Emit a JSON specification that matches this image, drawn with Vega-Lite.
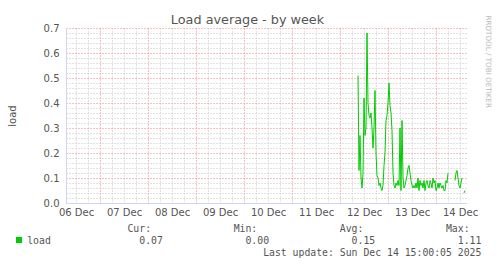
{
  "$schema": "https://vega.github.io/schema/vega-lite/v6.json",
  "width": 400,
  "height": 175,
  "autosize": {"type": "none"},
  "padding": {"left": 66, "top": 28, "right": 31, "bottom": 61},
  "background": "#ffffff",
  "title": {
    "text": "Load average - by week",
    "font": "DejaVu Sans",
    "fontSize": 12.8,
    "fontWeight": "normal",
    "color": "#555555",
    "anchor": "middle",
    "frame": "group",
    "dx": -18.5,
    "offset": -22,
    "baseline": "alphabetic"
  },
  "config": {
    "view": {"stroke": null},
    "axis": {"labelFont": "DejaVu Sans", "titleFont": "DejaVu Sans", "titleFontWeight": "normal"}
  },
  "data": {
    "values": [
      {"t": "2025-12-12T09:00", "v": 0.51},
      {"t": "2025-12-12T09:30", "v": 0.13},
      {"t": "2025-12-12T10:00", "v": 0.27},
      {"t": "2025-12-12T10:30", "v": 0.10},
      {"t": "2025-12-12T11:00", "v": 0.06},
      {"t": "2025-12-12T11:30", "v": 0.12},
      {"t": "2025-12-12T12:00", "v": 0.42},
      {"t": "2025-12-12T12:30", "v": 0.27},
      {"t": "2025-12-12T13:00", "v": 0.30},
      {"t": "2025-12-12T13:30", "v": 0.68},
      {"t": "2025-12-12T14:00", "v": 0.40},
      {"t": "2025-12-12T14:30", "v": 0.35},
      {"t": "2025-12-12T15:00", "v": 0.34},
      {"t": "2025-12-12T15:30", "v": 0.36},
      {"t": "2025-12-12T16:00", "v": 0.30},
      {"t": "2025-12-12T16:30", "v": 0.22},
      {"t": "2025-12-12T17:00", "v": 0.30},
      {"t": "2025-12-12T17:30", "v": 0.45},
      {"t": "2025-12-12T18:00", "v": 0.20},
      {"t": "2025-12-12T18:30", "v": 0.11},
      {"t": "2025-12-12T19:00", "v": 0.10},
      {"t": "2025-12-12T19:30", "v": 0.07},
      {"t": "2025-12-12T20:00", "v": 0.08},
      {"t": "2025-12-12T20:30", "v": 0.06},
      {"t": "2025-12-12T21:00", "v": 0.05},
      {"t": "2025-12-12T21:30", "v": 0.07},
      {"t": "2025-12-12T22:00", "v": 0.15},
      {"t": "2025-12-12T22:30", "v": 0.20},
      {"t": "2025-12-12T23:00", "v": 0.33},
      {"t": "2025-12-12T23:30", "v": 0.35},
      {"t": "2025-12-13T00:00", "v": 0.40},
      {"t": "2025-12-13T00:30", "v": 0.48},
      {"t": "2025-12-13T01:00", "v": 0.39},
      {"t": "2025-12-13T01:30", "v": 0.36},
      {"t": "2025-12-13T02:00", "v": 0.29},
      {"t": "2025-12-13T02:30", "v": 0.12},
      {"t": "2025-12-13T03:00", "v": 0.07},
      {"t": "2025-12-13T03:30", "v": 0.06},
      {"t": "2025-12-13T04:00", "v": 0.08},
      {"t": "2025-12-13T04:30", "v": 0.07},
      {"t": "2025-12-13T05:00", "v": 0.09},
      {"t": "2025-12-13T05:30", "v": 0.07},
      {"t": "2025-12-13T06:00", "v": 0.30},
      {"t": "2025-12-13T06:30", "v": 0.05},
      {"t": "2025-12-13T07:00", "v": 0.33},
      {"t": "2025-12-13T07:30", "v": 0.10},
      {"t": "2025-12-13T08:00", "v": 0.06},
      {"t": "2025-12-13T08:30", "v": 0.07},
      {"t": "2025-12-13T09:00", "v": 0.09},
      {"t": "2025-12-13T09:30", "v": 0.11},
      {"t": "2025-12-13T10:00", "v": 0.14},
      {"t": "2025-12-13T10:30", "v": 0.15},
      {"t": "2025-12-13T11:00", "v": 0.12},
      {"t": "2025-12-13T11:30", "v": 0.09},
      {"t": "2025-12-13T12:00", "v": 0.07},
      {"t": "2025-12-13T12:30", "v": 0.06},
      {"t": "2025-12-13T13:00", "v": 0.07},
      {"t": "2025-12-13T13:30", "v": 0.06},
      {"t": "2025-12-13T14:00", "v": 0.08},
      {"t": "2025-12-13T14:30", "v": 0.06},
      {"t": "2025-12-13T15:00", "v": 0.10},
      {"t": "2025-12-13T15:30", "v": 0.05},
      {"t": "2025-12-13T16:00", "v": 0.09},
      {"t": "2025-12-13T16:30", "v": 0.07},
      {"t": "2025-12-13T17:00", "v": 0.08},
      {"t": "2025-12-13T17:30", "v": 0.06},
      {"t": "2025-12-13T18:00", "v": 0.09},
      {"t": "2025-12-13T18:30", "v": 0.05},
      {"t": "2025-12-13T19:00", "v": 0.08},
      {"t": "2025-12-13T19:30", "v": 0.09},
      {"t": "2025-12-13T20:00", "v": 0.07},
      {"t": "2025-12-13T20:30", "v": 0.06},
      {"t": "2025-12-13T21:00", "v": 0.09},
      {"t": "2025-12-13T21:30", "v": 0.08},
      {"t": "2025-12-13T22:00", "v": 0.06},
      {"t": "2025-12-13T22:30", "v": 0.10},
      {"t": "2025-12-13T23:00", "v": 0.08},
      {"t": "2025-12-13T23:30", "v": 0.09},
      {"t": "2025-12-14T00:00", "v": 0.05},
      {"t": "2025-12-14T00:30", "v": 0.06},
      {"t": "2025-12-14T01:00", "v": 0.08},
      {"t": "2025-12-14T01:30", "v": 0.06},
      {"t": "2025-12-14T02:00", "v": 0.08},
      {"t": "2025-12-14T02:30", "v": 0.07},
      {"t": "2025-12-14T03:00", "v": 0.06},
      {"t": "2025-12-14T03:30", "v": 0.07},
      {"t": "2025-12-14T04:00", "v": 0.05},
      {"t": "2025-12-14T04:30", "v": 0.05},
      {"t": "2025-12-14T05:00", "v": 0.09},
      {"t": "2025-12-14T05:30", "v": 0.08},
      {"t": "2025-12-14T06:00", "v": 0.12},
      {"t": "2025-12-14T06:30", "v": null},
      {"t": "2025-12-14T09:30", "v": 0.09},
      {"t": "2025-12-14T10:00", "v": 0.12},
      {"t": "2025-12-14T10:30", "v": 0.13},
      {"t": "2025-12-14T11:00", "v": 0.10},
      {"t": "2025-12-14T11:30", "v": 0.07},
      {"t": "2025-12-14T12:00", "v": 0.06},
      {"t": "2025-12-14T12:30", "v": 0.08},
      {"t": "2025-12-14T13:00", "v": 0.10},
      {"t": "2025-12-14T13:30", "v": null},
      {"t": "2025-12-14T14:00", "v": 0.04},
      {"t": "2025-12-14T14:30", "v": 0.05}
    ]
  },
  "layer": [
    {
      "mark": {"type": "point", "opacity": 0},
      "encoding": {
        "x": {
          "field": "t", "type": "temporal",
          "scale": {"domain": [{"year": 2025, "month": 12, "date": 6, "hours": 7}, {"year": 2025, "month": 12, "date": 14, "hours": 15}]},
          "axis": {"orient": "bottom", "values": [
            {"year": 2025, "month": 12, "date": 6, "hours": 12}, {"year": 2025, "month": 12, "date": 6, "hours": 18},
            {"year": 2025, "month": 12, "date": 7, "hours": 6}, {"year": 2025, "month": 12, "date": 7, "hours": 12}, {"year": 2025, "month": 12, "date": 7, "hours": 18},
            {"year": 2025, "month": 12, "date": 8, "hours": 6}, {"year": 2025, "month": 12, "date": 8, "hours": 12}, {"year": 2025, "month": 12, "date": 8, "hours": 18},
            {"year": 2025, "month": 12, "date": 9, "hours": 6}, {"year": 2025, "month": 12, "date": 9, "hours": 12}, {"year": 2025, "month": 12, "date": 9, "hours": 18},
            {"year": 2025, "month": 12, "date": 10, "hours": 6}, {"year": 2025, "month": 12, "date": 10, "hours": 12}, {"year": 2025, "month": 12, "date": 10, "hours": 18},
            {"year": 2025, "month": 12, "date": 11, "hours": 6}, {"year": 2025, "month": 12, "date": 11, "hours": 12}, {"year": 2025, "month": 12, "date": 11, "hours": 18},
            {"year": 2025, "month": 12, "date": 12, "hours": 6}, {"year": 2025, "month": 12, "date": 12, "hours": 12}, {"year": 2025, "month": 12, "date": 12, "hours": 18},
            {"year": 2025, "month": 12, "date": 13, "hours": 6}, {"year": 2025, "month": 12, "date": 13, "hours": 12}, {"year": 2025, "month": 12, "date": 13, "hours": 18},
            {"year": 2025, "month": 12, "date": 14, "hours": 6}, {"year": 2025, "month": 12, "date": 14, "hours": 12}
          ], "grid": true, "gridColor": "#c4c4c4", "gridDash": [1, 2], "labels": false, "ticks": false, "domain": false, "title": null}
        },
        "y": {
          "field": "v", "type": "quantitative",
          "scale": {"domain": [0, 0.7], "nice": false},
          "axis": {"orient": "left", "values": [0.02, 0.04, 0.06, 0.08, 0.12, 0.14, 0.16, 0.18, 0.22, 0.24, 0.26, 0.28, 0.32, 0.34, 0.36, 0.38, 0.42, 0.44, 0.46, 0.48, 0.52, 0.54, 0.56, 0.58, 0.62, 0.64, 0.66, 0.68], "grid": true, "gridColor": "#c4c4c4", "gridDash": [1, 2], "labels": false, "ticks": false, "domain": false, "title": null}
        }
      }
    },
    {
      "mark": {"type": "point", "opacity": 0},
      "encoding": {
        "x": {
          "field": "t", "type": "temporal",
          "scale": {"domain": [{"year": 2025, "month": 12, "date": 6, "hours": 7}, {"year": 2025, "month": 12, "date": 14, "hours": 15}]},
          "axis": {"orient": "bottom", "values": [
            {"year": 2025, "month": 12, "date": 7}, {"year": 2025, "month": 12, "date": 8}, {"year": 2025, "month": 12, "date": 9},
            {"year": 2025, "month": 12, "date": 10}, {"year": 2025, "month": 12, "date": 11}, {"year": 2025, "month": 12, "date": 12},
            {"year": 2025, "month": 12, "date": 13}, {"year": 2025, "month": 12, "date": 14}
          ], "grid": true, "gridColor": "#f08080", "gridDash": [1, 2], "labels": false, "ticks": false, "domain": false, "title": null}
        },
        "y": {
          "field": "v", "type": "quantitative",
          "scale": {"domain": [0, 0.7], "nice": false},
          "axis": {"orient": "left", "values": [0, 0.1, 0.2, 0.3, 0.4, 0.5, 0.6, 0.7], "format": ".1f", "grid": true, "gridColor": "#f08080", "gridDash": [1, 2], "ticks": false, "labelPadding": 7, "labelFontSize": 10, "labelColor": "#555555", "domain": true, "domainColor": "#cfd6f8", "title": "load", "titleFontSize": 10, "titleColor": "#555555", "titleX": -54, "titleBaseline": "middle"}
        }
      }
    },
    {
      "mark": {"type": "line", "strokeWidth": 1},
      "encoding": {
        "x": {
          "field": "t", "type": "temporal",
          "scale": {"domain": [{"year": 2025, "month": 12, "date": 6, "hours": 7}, {"year": 2025, "month": 12, "date": 14, "hours": 15}]},
          "axis": {
            "orient": "bottom",
            "values": [
              {"year": 2025, "month": 12, "date": 6, "hours": 12},
              {"year": 2025, "month": 12, "date": 7, "hours": 12},
              {"year": 2025, "month": 12, "date": 8, "hours": 12},
              {"year": 2025, "month": 12, "date": 9, "hours": 12},
              {"year": 2025, "month": 12, "date": 10, "hours": 12},
              {"year": 2025, "month": 12, "date": 11, "hours": 12},
              {"year": 2025, "month": 12, "date": 12, "hours": 12},
              {"year": 2025, "month": 12, "date": 13, "hours": 12},
              {"year": 2025, "month": 12, "date": 14, "hours": 12}
            ],
            "format": "%d %b",
            "grid": false, "ticks": false, "labelPadding": 4, "labelFontSize": 10, "labelColor": "#555555",
            "domain": true, "domainColor": "#cfd6f8",
            "title": [
              "\u200b\u00a0\u00a0\u00a0\u00a0\u00a0\u00a0\u00a0\u00a0\u00a0\u00a0\u00a0\u00a0\u00a0\u00a0\u00a0\u00a0\u00a0Cur:\u00a0\u00a0\u00a0\u00a0\u00a0\u00a0\u00a0\u00a0\u00a0\u00a0\u00a0\u00a0\u00a0\u00a0Min:\u00a0\u00a0\u00a0\u00a0\u00a0\u00a0\u00a0\u00a0\u00a0\u00a0\u00a0\u00a0\u00a0\u00a0Avg:\u00a0\u00a0\u00a0\u00a0\u00a0\u00a0\u00a0\u00a0\u00a0\u00a0\u00a0\u00a0\u00a0\u00a0Max:",
              "load\u00a0\u00a0\u00a0\u00a0\u00a0\u00a0\u00a0\u00a0\u00a0\u00a0\u00a0\u00a0\u00a0\u00a0\u00a00.07\u00a0\u00a0\u00a0\u00a0\u00a0\u00a0\u00a0\u00a0\u00a0\u00a0\u00a0\u00a0\u00a0\u00a00.00\u00a0\u00a0\u00a0\u00a0\u00a0\u00a0\u00a0\u00a0\u00a0\u00a0\u00a0\u00a0\u00a0\u00a00.15\u00a0\u00a0\u00a0\u00a0\u00a0\u00a0\u00a0\u00a0\u00a0\u00a0\u00a0\u00a0\u00a0\u00a01.11",
              "\u200b\u00a0\u00a0\u00a0\u00a0\u00a0\u00a0\u00a0\u00a0\u00a0\u00a0\u00a0\u00a0\u00a0\u00a0\u00a0\u00a0\u00a0\u00a0\u00a0\u00a0\u00a0\u00a0\u00a0\u00a0\u00a0\u00a0\u00a0\u00a0\u00a0\u00a0\u00a0\u00a0\u00a0\u00a0\u00a0\u00a0\u00a0\u00a0\u00a0\u00a0Last update: Sun Dec 14 15:00:05 2025"
            ],
            "titleFont": "DejaVu Sans Mono", "titleFontSize": 9.8, "titleColor": "#555555",
            "titleAlign": "left", "titleBaseline": "alphabetic", "titleLineHeight": 12.2,
            "titleX": -39.3, "titleY": 28
          }
        },
        "y": {
          "field": "v", "type": "quantitative",
          "scale": {"domain": [0, 0.7], "nice": false},
          "axis": {"orient": "right", "labels": false, "ticks": false, "domain": false, "grid": false,
            "title": "RRDTOOL / TOBI OETIKER", "titleAngle": 90, "titleFontSize": 7.2, "titleColor": "#bbbbbb",
            "titleX": 21, "titleY": -13, "titleAlign": "left", "titleBaseline": "middle"}
        },
        "color": {
          "datum": "load",
          "scale": {"range": ["#00cc00"]},
          "legend": {"orient": "none", "legendX": -52, "legendY": 207, "title": null, "symbolType": "square", "symbolSize": 36, "symbolFillColor": "#00cc00", "symbolStrokeColor": "#00cc00", "symbolStrokeWidth": 0, "labelExpr": "''"}
        }
      }
    }
  ],
  "resolve": {"axis": {"x": "independent", "y": "independent"}}
}
